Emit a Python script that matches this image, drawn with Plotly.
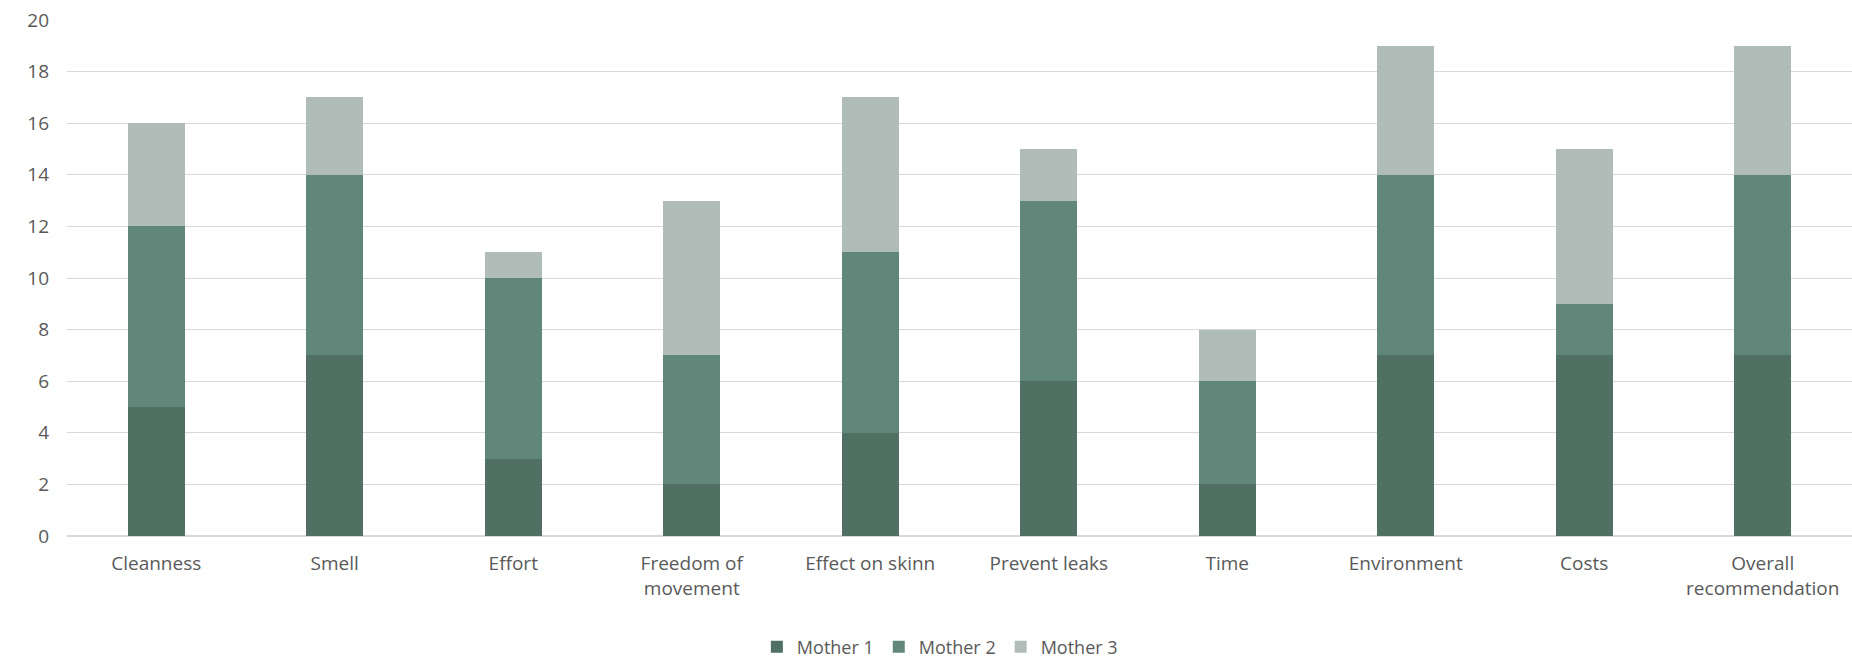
import plotly.graph_objects as go

categories = ["Cleanness", "Smell", "Effort", "Freedom of<br>movement", "Effect on skinn",
              "Prevent leaks", "Time", "Environment", "Costs", "Overall<br>recommendation"]
mother1 = [5, 7, 3, 2, 4, 6, 2, 7, 7, 7]
mother2 = [7, 7, 7, 5, 7, 7, 4, 7, 2, 7]
mother3 = [4, 3, 1, 6, 6, 2, 2, 5, 6, 5]
series_names = ["Mother 1", "Mother 2", "Mother 3"]
colors = ["#4F7063", "#60877A", "#B0BCB7"]
y_ticks = [0, 2, 4, 6, 8, 10, 12, 14, 16, 18, 20]

fig = go.Figure()
for name, vals, col in zip(series_names, [mother1, mother2, mother3], colors):
    fig.add_trace(go.Bar(
        x=categories, y=vals, name=name,
        marker=dict(color=col, line=dict(width=0)),
    ))

fig.update_layout(
    barmode="stack",
    bargap=0.68,
    width=1852, height=659,
    margin=dict(l=67, r=0, t=20, b=123, autoexpand=False),
    plot_bgcolor="white", paper_bgcolor="white",
    font=dict(family="Open Sans, Noto Sans, sans-serif", size=19, color="#595959"),
    showlegend=True,
    legend=dict(orientation="h", x=0.489, xanchor="center", y=-0.215, yanchor="middle",
                font=dict(size=18, color="#595959"), traceorder="normal",
                itemwidth=30),
    xaxis=dict(showgrid=False, showline=False, ticks="", tickfont=dict(size=19),
               ticklabelstandoff=14, automargin=False),
    yaxis=dict(range=[0, 20], tickvals=y_ticks, showgrid=True, gridcolor="#D9D9D9",
               gridwidth=1, zeroline=True, zerolinecolor="#D9D9D9", zerolinewidth=1.5,
               ticks="", tickfont=dict(size=19), ticklabelstandoff=17, automargin=False),
)

fig.write_html("out.html")
